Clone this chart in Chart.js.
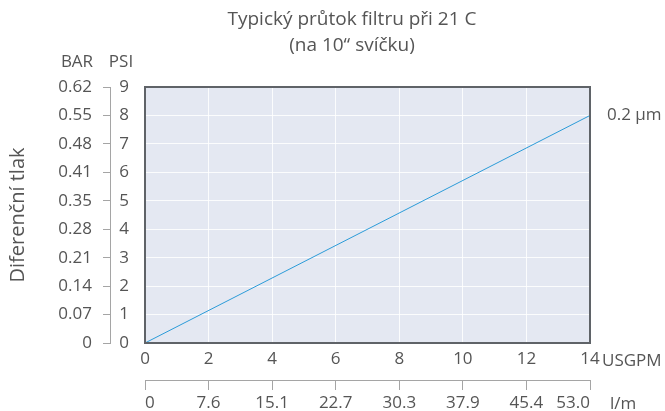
<!DOCTYPE html>
<html>
<head>
<meta charset="utf-8">
<script src="https://cdn.jsdelivr.net/npm/chart.js@4.4.1/dist/chart.umd.min.js"></script>
<style>
  html, body { margin: 0; padding: 0; background: #fff; }
  #wrap { width: 665px; height: 411px; position: relative; }
</style>
</head>
<body>
<div id="wrap"><canvas id="flowChart"></canvas></div>
<script>
// flow (USGPM) vs differential pressure (PSI)
var flowUsgpm = [0, 14];
var dpPsi = [0, 8];
var seriesName = '0.2 µm';

var psiTicks = [0, 1, 2, 3, 4, 5, 6, 7, 8, 9];
var barLabels = ['0', '0.07', '0.14', '0.21', '0.28', '0.35', '0.41', '0.48', '0.55', '0.62'];
var usgpmTicks = [0, 2, 4, 6, 8, 10, 12, 14];
var lpmLabels = ['0', '7.6', '15.1', '22.7', '30.3', '37.9', '45.4', '53.0'];

var txt = '#555';
var fam = "'Open Sans', sans-serif";
var tickFont = { family: fam, size: 17 };

var points = flowUsgpm.map(function(x, i) { return { x: x, y: dpPsi[i] }; });

// plot background, frame and free text
var decor = {
    id: 'decor',
    beforeDraw: function(chart) {
        var a = chart.chartArea, ctx = chart.ctx;
        ctx.save();
        ctx.fillStyle = '#e4e8f2';
        ctx.fillRect(a.left, a.top, a.right - a.left, a.bottom - a.top);
        ctx.restore();
    },
    afterDraw: function(chart) {
        var a = chart.chartArea, ctx = chart.ctx;
        ctx.save();
        ctx.strokeStyle = '#5f6368';
        ctx.lineWidth = 2;
        ctx.strokeRect(a.left, a.top, a.right - a.left, a.bottom - a.top);

        ctx.fillStyle = txt;
        ctx.textBaseline = 'middle';
        ctx.textAlign = 'center';
        ctx.font = '19px ' + fam;
        ctx.fillText('Typický průtok filtru při 21 C', 352, 20);
        ctx.fillText('(na 10“ svíčku)', 352, 46);

        ctx.font = '17px ' + fam;
        ctx.fillText('BAR', 77, 62);
        ctx.fillText('PSI', 121, 62);

        ctx.textAlign = 'left';
        ctx.fillText('USGPM', a.right + 12, 361);
        ctx.fillText('l/m', a.right + 20, 404);

        var meta = chart.getDatasetMeta(0);
        var last = meta.data[meta.data.length - 1];
        ctx.fillText(seriesName, a.right + 17, last.y);
        ctx.restore();
    }
};

new Chart(document.getElementById('flowChart'), {
    type: 'line',
    data: {
        datasets: [{
            label: seriesName,
            data: points,
            borderColor: '#2b9bd8',
            borderWidth: 1,
            pointRadius: 0,
            fill: false,
            xAxisID: 'x',
            yAxisID: 'y'
        }]
    },
    options: {
        responsive: true,
        maintainAspectRatio: false,
        animation: false,
        layout: { padding: { top: 87, right: 75, bottom: 0, left: 0 } },
        plugins: { legend: { display: false }, tooltip: { enabled: false }, title: { display: false } },
        scales: {
            x: {
                type: 'linear', position: 'bottom', weight: 0,
                min: 0, max: 14,
                afterBuildTicks: function(s) { s.ticks = usgpmTicks.map(function(v) { return { value: v }; }); },
                afterFit: function(s) { s.height = 37; },
                grid: { color: 'rgba(255,255,255,0.85)', drawTicks: false },
                border: { display: false },
                ticks: { color: txt, font: tickFont, padding: 6, maxRotation: 0 }
            },
            x2: {
                type: 'linear', position: 'bottom', weight: 1,
                min: 0, max: 14,
                afterBuildTicks: function(s) { s.ticks = usgpmTicks.map(function(v) { return { value: v }; }); },
                afterFit: function(s) { s.height = 31; },
                grid: { drawOnChartArea: false, color: '#a5a5a5', tickLength: 10 },
                border: { display: true, color: '#a5a5a5' },
                ticks: {
                    color: txt, font: tickFont, padding: 3, maxRotation: 0, align: 'inner',
                    callback: function(v) { return lpmLabels[usgpmTicks.indexOf(v)]; }
                }
            },
            y: {
                type: 'linear', position: 'left', weight: 0,
                min: 0, max: 9,
                afterBuildTicks: function(s) { s.ticks = psiTicks.map(function(v) { return { value: v }; }); },
                afterFit: function(s) { s.width = 35; },
                grid: { color: 'rgba(255,255,255,0.85)', drawTicks: false },
                border: { display: false },
                ticks: { color: txt, font: tickFont, padding: 16 }
            },
            y2: {
                type: 'linear', position: 'left', weight: 1,
                min: 0, max: 9,
                afterBuildTicks: function(s) { s.ticks = psiTicks.map(function(v) { return { value: v }; }); },
                afterFit: function(s) { s.width = 110; },
                grid: { drawOnChartArea: false, color: '#a5a5a5', tickLength: 7 },
                border: { display: true, color: '#a5a5a5' },
                title: {
                    display: true, text: 'Diferenční tlak', color: txt,
                    font: { family: fam, size: 20 }, padding: { top: 6, bottom: 0 }
                },
                ticks: {
                    color: txt, font: tickFont, padding: 11,
                    callback: function(v) { return barLabels[psiTicks.indexOf(v)]; }
                }
            }
        }
    },
    plugins: [decor]
});
</script>
</body>
</html>
